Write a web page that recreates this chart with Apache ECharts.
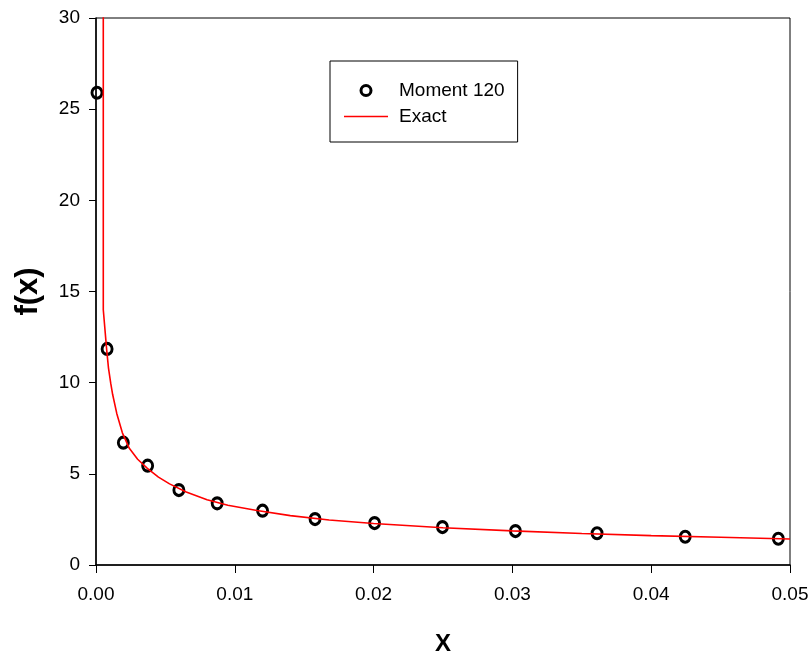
<!DOCTYPE html>
<html>
<head>
<meta charset="utf-8">
<script src="https://cdn.jsdelivr.net/npm/echarts@6/dist/echarts.min.js"></script>
<style>
html,body{margin:0;padding:0;background:#fff;}
#chart{width:812px;height:658px;}
</style>
</head>
<body>
<div id="chart"></div>
<script>
// Moment 120 (scatter) values
var momentX = [0.00007, 0.0008, 0.00197, 0.00372, 0.00597, 0.00873, 0.0120, 0.01578, 0.02007, 0.02496, 0.03022, 0.0361, 0.04245, 0.04916];
var momentY = [25.9, 11.85, 6.71, 5.45, 4.11, 3.38, 2.98, 2.52, 2.30, 2.08, 1.86, 1.74, 1.55, 1.44];
// Exact curve points
var exactX = [0.000525, 0.000525, 0.00077, 0.0009, 0.00106, 0.0012, 0.0015, 0.0019, 0.0024, 0.003, 0.0037, 0.0045, 0.0053, 0.0065, 0.008, 0.0095, 0.0116, 0.014, 0.0168, 0.020, 0.025, 0.030, 0.035, 0.040, 0.045, 0.050];
var exactY = [40, 14.0, 11.8, 10.8, 9.97, 9.35, 8.3, 7.25, 6.4, 5.8, 5.3, 4.82, 4.45, 4.0, 3.58, 3.28, 2.99, 2.71, 2.47, 2.28, 2.04, 1.87, 1.73, 1.61, 1.52, 1.43];
var xTicks = [0, 0.01, 0.02, 0.03, 0.04, 0.05];
var yTicks = [0, 5, 10, 15, 20, 25, 30];

var FONT = "'Liberation Sans', Arial, sans-serif";
function zip(a, b) { return a.map(function (v, i) { return [v, b[i]]; }); }

// thin horizontal bar centred in a 44x10 box (zero-area corners fix the box)
var LINE_ICON = 'path://M0,0L0.01,0L0,0Z M0,4.3H44V5.7H0Z M0,10L0.01,10L0,10Z M44,0L43.99,0L44,0Z';

var chart = echarts.init(document.getElementById('chart'), null, {renderer: 'canvas'});
chart.setOption({
  animation: false,
  backgroundColor: '#fff',
  grid: {left: 96, right: 22, top: 18, bottom: 93, containLabel: false, outerBoundsMode: 'none',
    show: true, borderColor: '#000', borderWidth: 1, backgroundColor: 'transparent'},
  legend: {
    left: 330, top: 61, orient: 'vertical',
    borderColor: '#000', borderWidth: 1,
    padding: [20, 13, 16, 14],
    itemWidth: 44, itemHeight: 10, itemGap: 7,
    textStyle: {fontFamily: FONT, fontSize: 19, color: '#000', padding: [0, 0, 0, 6]},
    data: [
      {name: 'Moment 120', icon: 'circle', itemStyle: {color: 'rgba(255,255,255,0)', borderColor: '#000', borderWidth: 3}},
      {name: 'Exact', icon: LINE_ICON, itemStyle: {color: '#ff0000', borderWidth: 0}}
    ]
  },
  xAxis: {
    type: 'value', min: 0, max: 0.05, interval: 0.01,
    name: 'X', nameLocation: 'middle', nameGap: 67,
    nameTextStyle: {fontFamily: FONT, fontSize: 24, fontWeight: 'bold', color: '#000'},
    axisLine: {show: true, onZero: false, lineStyle: {color: '#000', width: 1.5}},
    axisTick: {show: true, inside: false, length: 8, lineStyle: {color: '#000', width: 1}},
    axisLabel: {fontFamily: FONT, fontSize: 19, color: '#000', margin: 20,
      formatter: function (v) { return v.toFixed(2); }},
    splitLine: {show: false}
  },
  yAxis: {
    type: 'value', min: 0, max: 30, interval: 5,
    name: 'f(x)', nameLocation: 'middle', nameGap: 52, nameRotate: 90,
    nameTextStyle: {fontFamily: FONT, fontSize: 31, fontWeight: 'bold', color: '#000'},
    axisLine: {show: true, onZero: false, lineStyle: {color: '#000', width: 1.5}},
    axisTick: {show: true, inside: false, length: 7, lineStyle: {color: '#000', width: 1}},
    axisLabel: {fontFamily: FONT, fontSize: 19, color: '#000', margin: 16},
    splitLine: {show: false}
  },
  series: [
    {
      name: 'Moment 120', type: 'scatter', data: zip(momentX, momentY),
      symbol: 'circle', symbolSize: [10, 11], z: 2, clip: false,
      itemStyle: {color: 'rgba(255,255,255,0)', borderColor: '#000', borderWidth: 3, opacity: 1}
    },
    {
      name: 'Exact', type: 'line', data: zip(exactX, exactY),
      symbol: 'none', smooth: false, clip: true, z: 3,
      lineStyle: {color: '#ff0000', width: 1.6},
      itemStyle: {color: '#ff0000'}
    }
  ]
});
</script>
</body>
</html>
